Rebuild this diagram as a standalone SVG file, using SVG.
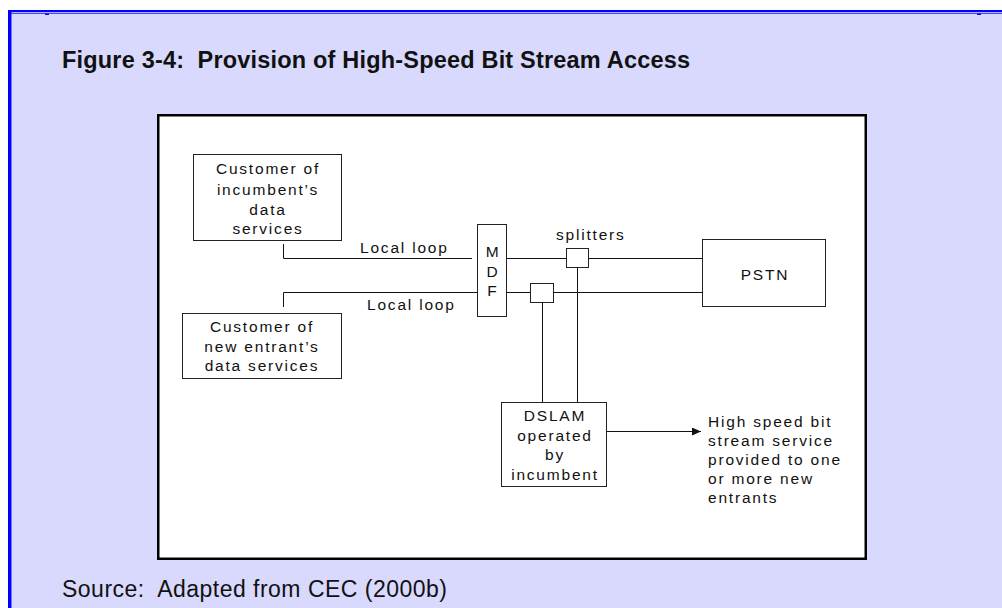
<svg xmlns="http://www.w3.org/2000/svg" width="1002" height="608" viewBox="0 0 1002 608">
<style>
.bg{fill:#d9d9fd}
.blue{fill:#0000ff}
.frame{fill:#ffffff;stroke:#000;stroke-width:2.5}
.box{fill:#ffffff;stroke:#222;stroke-width:1}
.ln{fill:none;stroke:#111;stroke-width:1}
.t{font-family:"Liberation Sans",Arial,sans-serif;font-size:15.5px;letter-spacing:1.8px;fill:#111}
.c{text-anchor:middle}
.title{font-family:"Liberation Sans",Arial,sans-serif;font-size:23.5px;font-weight:bold;fill:#111}
.src{font-family:"Liberation Sans",Arial,sans-serif;font-size:23px;fill:#111}
</style>
<defs>
<marker id="arr" markerWidth="10" markerHeight="8" refX="9" refY="4" orient="auto" markerUnits="userSpaceOnUse">
<path d="M0,0 L9,4 L0,8 Z" fill="#111"/>
</marker>
</defs>
<rect x="0" y="0" width="1002" height="608" fill="#ffffff"/>
<rect class="bg" x="11.5" y="13.5" width="990.5" height="594.5"/>
<rect class="blue" x="8" y="10" width="994" height="2"/>
<rect class="blue" x="8" y="12.7" width="994" height="1"/>
<rect class="blue" x="8" y="10" width="3.5" height="598"/>
<rect class="blue" x="45" y="13.7" width="4" height="1.3"/>
<rect class="blue" x="977" y="13.7" width="4" height="1.3"/>
<text class="title" x="62" y="68" textLength="628" lengthAdjust="spacing" xml:space="preserve">Figure 3-4:  Provision of High-Speed Bit Stream Access</text>
<rect class="frame" x="158.25" y="115.25" width="707.5" height="443.5"/>
<text class="src" x="62" y="597" textLength="385" lengthAdjust="spacing" xml:space="preserve">Source:  Adapted from CEC (2000b)</text>

<g id="connectors">
<polyline class="ln" points="283.5,244 283.5,258.5 472,258.5"/>
<polyline class="ln" points="283.5,307 283.5,292.5 477,292.5"/>
<line class="ln" x1="507" y1="258.5" x2="566" y2="258.5"/>
<line class="ln" x1="589" y1="258.5" x2="702" y2="258.5"/>
<line class="ln" x1="507" y1="292.5" x2="530" y2="292.5"/>
<line class="ln" x1="554" y1="292.5" x2="702" y2="292.5"/>
<line class="ln" x1="577.5" y1="268" x2="577.5" y2="402"/>
<line class="ln" x1="542.5" y1="303" x2="542.5" y2="402"/>
<line class="ln" x1="607" y1="431.5" x2="701" y2="431.5" marker-end="url(#arr)"/>
<text class="t" x="360" y="253">Local loop</text>
<text class="t" x="367" y="310">Local loop</text>
<text class="t" x="556" y="240">splitters</text>
</g>

<g id="cust-incumbent">
<rect class="box" x="193.5" y="154.5" width="148" height="86"/>
<text class="t c" x="268" y="174">Customer of</text>
<text class="t c" x="268" y="195">incumbent’s</text>
<text class="t c" x="268" y="215">data</text>
<text class="t c" x="268" y="234">services</text>
</g>

<g id="cust-new">
<rect class="box" x="182.5" y="313.5" width="159" height="65"/>
<text class="t c" x="262" y="332">Customer of</text>
<text class="t c" x="262" y="352">new entrant’s</text>
<text class="t c" x="262" y="371">data services</text>
</g>

<g id="mdf">
<rect class="box" x="477.5" y="224.5" width="29" height="92"/>
<text class="t c" x="493" y="257">M</text>
<text class="t c" x="493" y="277">D</text>
<text class="t c" x="493" y="296">F</text>
</g>

<g id="splitter1">
<rect class="box" x="566.5" y="248.5" width="22" height="19"/>
</g>
<g id="splitter2">
<rect class="box" x="530.5" y="283.5" width="23" height="19"/>
</g>

<g id="pstn">
<rect class="box" x="702.5" y="239.5" width="123" height="67"/>
<text class="t c" x="765" y="280">PSTN</text>
</g>

<g id="dslam">
<rect class="box" x="501.5" y="402.5" width="105" height="84"/>
<text class="t c" x="555" y="421">DSLAM</text>
<text class="t c" x="555" y="441">operated</text>
<text class="t c" x="555" y="460">by</text>
<text class="t c" x="555" y="480">incumbent</text>
</g>

<g id="service-note">
<text class="t" x="708" y="427">High speed bit</text>
<text class="t" x="708" y="446">stream service</text>
<text class="t" x="708" y="465">provided to one</text>
<text class="t" x="708" y="484">or more new</text>
<text class="t" x="708" y="503">entrants</text>
</g>
</svg>
